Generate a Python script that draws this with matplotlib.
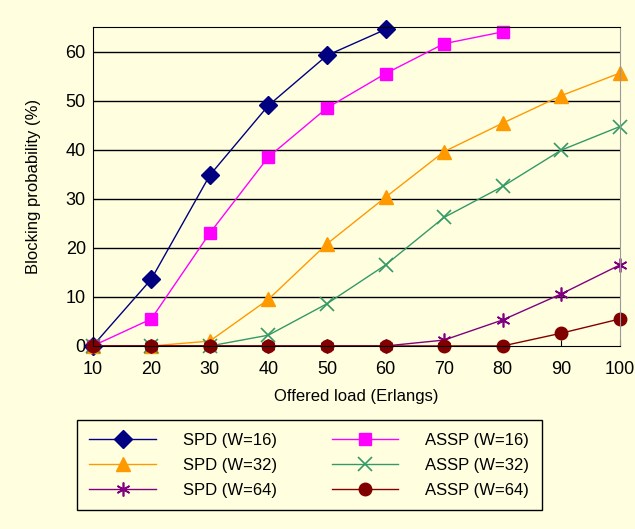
import matplotlib
matplotlib.use("Agg")
import matplotlib.pyplot as plt

plt.rcParams['font.family'] = ['Liberation Sans', 'DejaVu Sans']

load = [10, 20, 30, 40, 50, 60, 70, 80, 90, 100]
spd16 = [0, 13.6, 34.8, 49.0, 59.2, 64.5]
assp16 = [0, 5.5, 23.0, 38.5, 48.5, 55.5, 61.6, 64.0]
spd32 = [0, 0, 1.0, 9.5, 20.8, 30.3, 39.6, 45.4, 51.0, 55.6]
assp32 = [0, 0, 0, 2.2, 8.6, 16.5, 26.2, 32.5, 39.9, 44.7]
spd64 = [0, 0, 0, 0, 0, 0, 1.2, 5.3, 10.6, 16.5]
assp64 = [0, 0, 0, 0, 0, 0, 0, 0, 2.6, 5.5]

series = [
    ("SPD (W=16)", spd16, "#000080", "D", 9),
    ("ASSP (W=16)", assp16, "#FF00FF", "s", 9),
    ("SPD (W=32)", spd32, "#FF9900", "^", 10),
    ("ASSP (W=32)", assp32, "#339966", "x", 10),
    ("SPD (W=64)", spd64, "#800080", "*", 10),
    ("ASSP (W=64)", assp64, "#800000", "o", 9),
]

bg = "#FFFFE0"
fig = plt.figure(figsize=(6.35, 5.29), dpi=100, facecolor=bg)
ax = fig.add_axes([0.146, 0.346, 0.830, 0.603], facecolor=bg)

handles = {}
for name, vals, col, mk, ms in series:
    xs = load[:len(vals)]
    if mk == "*":
        l, = ax.plot(xs, vals, color=col, lw=1, marker=(6, 2, 0), ms=ms,
                     mec=col, mew=1.2, clip_on=False)
    elif mk == "x":
        l, = ax.plot(xs, vals, color=col, lw=1, marker="x", ms=ms,
                     mec=col, mew=1.2, clip_on=False)
    else:
        l, = ax.plot(xs, vals, color=col, lw=1, marker=mk, ms=ms,
                     mfc=col, mec=col, clip_on=False)
    handles[name] = l

ax.set_xlim(10, 100)
ax.set_ylim(0, 65)
ax.set_xticks(load)
ax.set_yticks([0, 10, 20, 30, 40, 50, 60])
for yv in [10, 20, 30, 40, 50, 60]:
    ax.axhline(yv, color="black", lw=1, zorder=0.5)
ax.spines['top'].set_color('black')
ax.spines['right'].set_color('#999999')
ax.spines['left'].set_color('black')
ax.spines['bottom'].set_color('black')
ax.tick_params(axis='both', labelsize=13, direction='in', length=4, color='black')
ax.tick_params(axis='x', pad=11)
ax.tick_params(axis='y', length=0, pad=5)
ax.set_xlabel("Offered load (Erlangs)", fontsize=12, labelpad=8)
ax.set_ylabel("Blocking probability (%)", fontsize=12, labelpad=18)

order = ["SPD (W=16)", "SPD (W=32)", "SPD (W=64)",
         "ASSP (W=16)", "ASSP (W=32)", "ASSP (W=64)"]
leg = fig.legend([handles[n] for n in order], order, ncol=2,
                 loc="upper left", bbox_to_anchor=(0.121, 0.206),
                 borderaxespad=0, fontsize=12, frameon=True, fancybox=False,
                 edgecolor="black", facecolor=bg, framealpha=1,
                 handlelength=4.0, handletextpad=1.6, labelspacing=0.6,
                 borderpad=0.75, columnspacing=3.3)
leg.get_frame().set_linewidth(1)

fig.savefig("out.png", dpi=100, facecolor=bg)
